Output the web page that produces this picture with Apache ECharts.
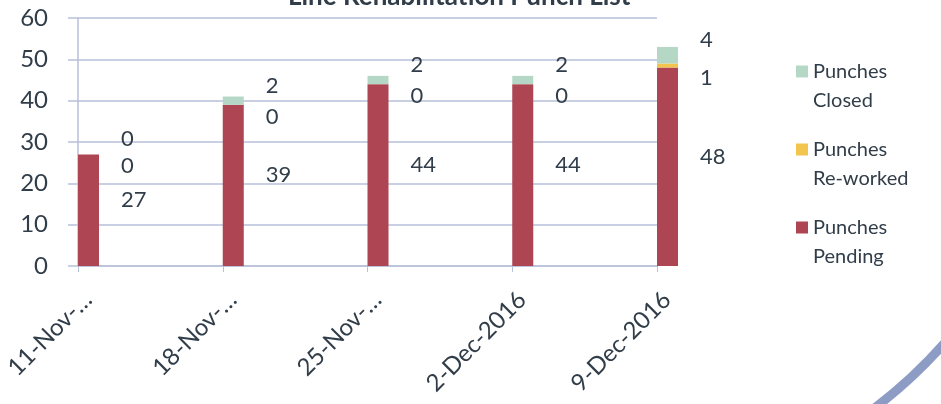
<!DOCTYPE html>
<html>
<head>
<meta charset="utf-8">
<script src="https://cdn.jsdelivr.net/npm/echarts@6/dist/echarts.min.js"></script>
<style>
html,body{margin:0;padding:0;background:#ffffff;}
#chart{width:941px;height:404px;}
</style>
</head>
<body>
<div id="chart"></div>
<script>
// ---- data ----
const titleText = 'Line Rehabilitation Punch List';
const categories = ['11-Nov-…', '18-Nov-…', '25-Nov-…', '2-Dec-2016', '9-Dec-2016'];
const seriesNames = ['Punches Pending', 'Punches Re-worked', 'Punches Closed'];
const pending = [27, 39, 44, 44, 48];
const reworked = [0, 0, 0, 0, 1];
const closed = [0, 2, 2, 2, 4];
const yMin = 0, yMax = 60, yStep = 10;

// ---- styles ----
const FONT = 'Lato, "Open Sans", sans-serif';
const TXT = '#313d49';
const GRIDC = '#b8c1da';
const colors = { pending: '#ad4552', reworked: '#f2c54e', closed: '#b5d8c6' };

const labelBase = {
  show: true, position: 'right', distance: 22,
  color: TXT, fontFamily: FONT, fontSize: 22
};

const chart = echarts.init(document.getElementById('chart'), null, { renderer: 'canvas' });
chart.setOption({
  backgroundColor: '#ffffff',
  animation: false,
  title: {
    text: titleText, left: 283, top: -21,
    textStyle: { fontFamily: FONT, fontSize: 26, fontWeight: 'bold', color: TXT }
  },
  legend: {
    orient: 'vertical', left: 791, top: 23, itemWidth: 12, itemHeight: 12, itemGap: -9,
    icon: 'rect',
    data: ['Punches Closed', 'Punches Re-worked', 'Punches Pending'],
    formatter: n => '\n' + n.replace(' ', '\n'),
    textStyle: { fontFamily: FONT, fontSize: 20, color: TXT, lineHeight: 29 }
  },
  grid: { left: 78, right: 284, top: 18, bottom: 138, containLabel: false },
  xAxis: {
    type: 'category', data: categories, boundaryGap: false,
    splitLine: { show: false },
    axisLine: { show: true, lineStyle: { color: GRIDC, width: 1.5 } },
    axisTick: { show: true, length: 6, lineStyle: { color: GRIDC } },
    axisLabel: {
      rotate: 45, margin: 20, interval: 0,
      formatter: v => '{a|' + v + '}',
      rich: { a: { padding: [28, 0, 0, 0], color: TXT, fontFamily: FONT, fontSize: 24 } }
    }
  },
  yAxis: {
    type: 'value', min: yMin, max: yMax, interval: yStep,
    axisLine: { show: true, lineStyle: { color: GRIDC, width: 1.5 } },
    axisTick: { show: true, length: 10, lineStyle: { color: GRIDC, width: 1.5 } },
    splitLine: { show: true, lineStyle: { color: GRIDC, width: 1.5 } },
    axisLabel: { margin: 30, color: TXT, fontFamily: FONT, fontSize: 24 }
  },
  series: [
    { name: 'offset', type: 'bar', stack: 'offset', barWidth: 21, barGap: '0%', clip: false,
      data: pending.map(() => 0), silent: true, itemStyle: { color: 'rgba(0,0,0,0)' } },
    { name: seriesNames[0], type: 'bar', stack: 'total', barWidth: 21, barGap: '0%', clip: false,
      itemStyle: { color: colors.pending }, data: pending,
      label: Object.assign({}, labelBase, { offset: [0, -10] }) },
    { name: seriesNames[1], type: 'bar', stack: 'total', barWidth: 21, clip: false,
      itemStyle: { color: colors.reworked }, data: reworked,
      label: Object.assign({}, labelBase, { offset: [0, 12] }) },
    { name: seriesNames[2], type: 'bar', stack: 'total', barWidth: 21, clip: false,
      itemStyle: { color: colors.closed }, data: closed,
      label: Object.assign({}, labelBase, { offset: [0, -15] }) }
  ],
  graphic: [{
    type: 'arc', silent: true,
    shape: { cx: 580, cy: 20, r: 487, startAngle: 0.6, endAngle: 1.1 },
    style: { stroke: '#8c9cc4', lineWidth: 9, fill: null }
  }]
});
</script>
</body>
</html>
